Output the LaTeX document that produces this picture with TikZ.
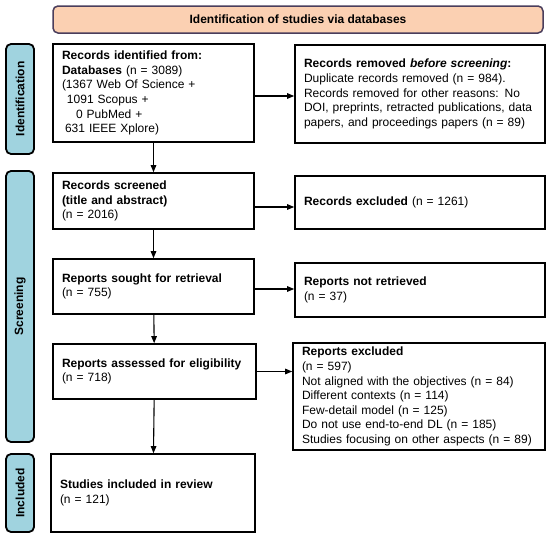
\documentclass[tikz,border=0pt]{standalone}
\usepackage{fontspec}
\setmainfont{Liberation Sans}
\usetikzlibrary{arrows.meta}

\begin{document}
\begin{tikzpicture}[x=1pt, y=-1pt,
    font=\fontsize{12}{14.6}\selectfont,
    box/.style={draw, line width=1.6pt, align=left, inner xsep=9pt, inner ysep=0pt},
    phase/.style={draw, line width=1.8pt, fill=phaseblue, rounded corners=5pt, rotate=90,
        minimum height=28pt, inner sep=0pt, font=\fontsize{12}{14}\selectfont\bfseries},
    flow/.style={-{Triangle[length=7pt, width=5.5pt]}, line width=1.1pt}]

    % Define custom colors
    \definecolor{phaseblue}{RGB}{160, 211, 223}
    \definecolor{titlepeach}{RGB}{251, 208, 178}
    \definecolor{titleedge}{RGB}{74, 62, 92}

    \useasboundingbox (0,0) rectangle (550,538);

    % 1. Title banner
    \node[draw=titleedge, line width=1.5pt, fill=titlepeach, rounded corners=5pt,
        minimum width=490pt, minimum height=27pt, font=\fontsize{12}{14}\selectfont\bfseries]
        (title) at (298,19.5) {Identification of studies via databases};

    % 2. Phase labels on the left
    \node[phase, minimum width=110pt] (identification) at (20,99) {Identification};
    \node[phase, minimum width=271pt] (screening) at (20,306.5) {Screening};
    \node[phase, minimum width=78pt] (included) at (20,493) {Included};

    % 3. Main column
    \node[box, text width=183pt, minimum height=98pt] (identified) at (153.5,93)
        {\textbf{Records identified from:}\\
         \textbf{Databases} (n = 3089)\\
         (1367 Web Of Science +\\
         \hspace*{5pt}1091 Scopus +\\
         \hspace*{14pt}0 PubMed +\\
         \hspace*{3pt}631 IEEE Xplore)};
    \node[box, text width=183pt, minimum height=56pt] (screened) at (153.5,201)
        {\textbf{Records screened}\\ \textbf{(title and abstract)}\\ (n = 2016)};
    \node[box, text width=183pt, minimum height=55pt] (sought) at (153.5,286.5)
        {\textbf{Reports sought for retrieval}\\ (n = 755)};
    \node[box, text width=185pt, minimum height=55pt] (assessed) at (154.5,371.5)
        {\textbf{Reports assessed for eligibility}\\ (n = 718)};
    \node[box, text width=186pt, minimum height=78pt] (review) at (153,493)
        {\textbf{Studies included in review}\\ (n = 121)};

    % 4. Side column
    \node[box, text width=232pt, minimum height=98pt] (removed) at (420,94)
        {\textbf{Records removed \textit{before screening}:}\\
         Duplicate records removed (n = 984).\\
         Records removed for other reasons: No\\
         DOI, preprints, retracted publications, data\\
         papers, and proceedings papers (n = 89)};
    \node[box, text width=232pt, minimum height=53pt] (excluded) at (420,202.5)
        {\textbf{Records excluded} (n = 1261)};
    \node[box, text width=232pt, minimum height=54pt] (notretrieved) at (420,290)
        {\textbf{Reports not retrieved}\\ (n = 37)};
    \node[box, text width=234pt, minimum height=107pt] (reportsexcl) at (419,396.5)
        {\textbf{Reports excluded}\\
         (n = 597)\\
         Not aligned with the objectives (n = 84)\\
         Different contexts (n = 114)\\
         Few-detail model (n = 125)\\
         Do not use end-to-end DL (n = 185)\\
         Studies focusing on other aspects (n = 89)};

    % 5. Arrows down the main column
    \draw[flow] (identified) -- (screened);
    \draw[flow] (screened) -- (sought);
    \draw[flow] (sought) -- (assessed);
    \draw[flow] (assessed) -- (review);

    % 6. Arrows to the side column
    \draw[flow] ([yshift=-3pt]identified.east) -- ([yshift=-3pt]identified.east -| removed.west);
    \draw[flow] ([yshift=-6pt]screened.east) -- ([yshift=-6pt]screened.east -| excluded.west);
    \draw[flow] ([yshift=-2.5pt]sought.east) -- ([yshift=-2.5pt]sought.east -| notretrieved.west);
    \draw[flow] (assessed.east) -- (assessed.east -| reportsexcl.west);

\end{tikzpicture}
\end{document}
